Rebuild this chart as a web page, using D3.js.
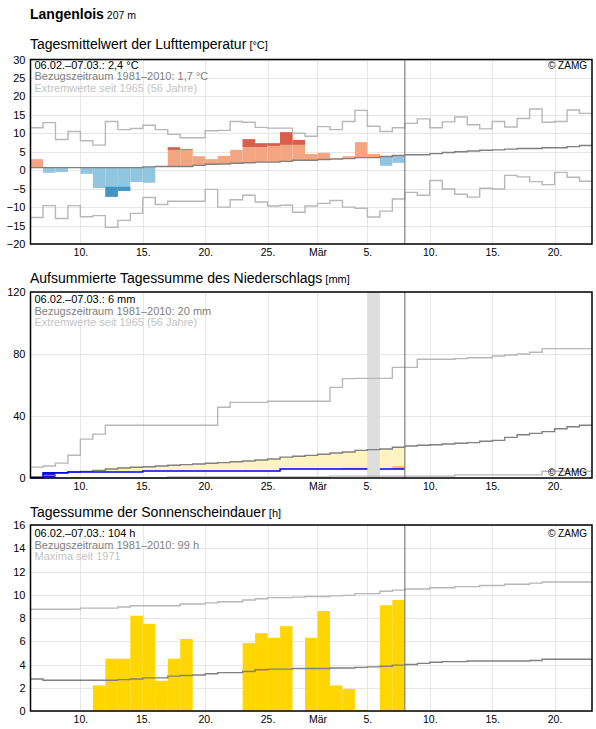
<!DOCTYPE html>
<html>
<head>
<meta charset="utf-8">
<script src="https://cdn.jsdelivr.net/npm/d3@7"></script>
<style>
  body { margin: 0; background: #fff; }
  svg text { font-family: "Liberation Sans", Arial, sans-serif; }
</style>
</head>
<body>
<div id="chart"></div>
<script>

// day 0 = 06.02.2021, the plot runs 45 days up to 23.03.
const startDay = new Date(Date.UTC(2021, 1, 6));
const nDays = 45;

const tickDays = ["2021-02-10", "2021-02-15", "2021-02-20", "2021-02-25", "2021-03-01",
                  "2021-03-05", "2021-03-10", "2021-03-15", "2021-03-20"];
const tickLabels = ["10.", "15.", "20.", "25.", "Mär", "5.", "10.", "15.", "20."];

// Temperatur
const tempTicks = [-20, -15, -10, -5, 0, 5, 10, 15, 20, 25, 30];
const tempNorm = [0.7, 0.7, 0.7, 0.7, 0.7, 0.7, 0.7, 0.7, 0.7, 0.9, 1.0, 1.0, 1.0, 1.3, 1.6,
                  1.7, 1.9, 2.0, 2.2, 2.2, 2.4, 2.7, 2.7, 2.9, 3.0, 3.15, 3.4, 3.4, 3.7, 4.0,
                  4.2, 4.2, 4.5, 4.8, 5.0, 5.2, 5.4, 5.5, 5.7, 5.9, 5.9, 6.1, 6.1, 6.4, 6.7];
const tempMax = [11.5, 12.9, 8.3, 10.5, 8.0, 6.8, 13.2, 11.0, 11.3, 12.2, 11.0, 9.7, 8.8, 8.8, 10.7,
                 10.8, 13.2, 13.0, 11.6, 11.4, 11.4, 10.0, 9.2, 11.8, 11.0, 13.2, 16.2, 11.9, 10.5, 11.5,
                 12.7, 13.9, 11.5, 13.1, 14.4, 12.3, 11.2, 13.2, 11.7, 14.0, 16.6, 13.0, 13.2, 16.3, 15.4];
const tempMin = [-12.8, -9.6, -13.1, -9.6, -12.6, -12.3, -15.5, -13.6, -11.7, -7.4, -9.3, -8.4, -8.4, -8.4, -5.2,
                 -10.0, -8.0, -6.8, -8.6, -9.7, -9.5, -11.4, -9.7, -9.0, -8.2, -10.0, -10.3, -12.7, -11.1, -7.8,
                 -6.0, -6.8, -2.8, -5.1, -6.5, -7.3, -4.9, -5.1, -1.4, -1.8, -3.1, -3.9, -0.6, -1.9, -3.0];
const tempDay = [3.0, -0.7, -0.5, 0.6, -1.0, -4.7, -7.2, -5.6, -3.2, -3.4, 1.0, 6.2, 5.7, 3.8, 3.0,
                 3.9, 5.5, 8.4, 7.3, 7.3, 10.3, 8.2, 4.4, 4.7, 3.3, 3.8, 7.6, 4.4, 1.2, 2.0];
// where the darker colour starts (beyond the usual range)
const tempDark = [null, null, null, null, null, -4.6, -4.5, -4.5, null, null, null, 5.5, 5.5, null, null,
                  null, null, 6.3, 6.3, 6.6, 6.9, 6.9, null, null, null, null, null, null, null, null];

// Niederschlag
const precTicks = [0, 40, 80, 120];
const precNorm = [0.9, 1.7, 3.0, 3.9, 4.3, 4.9, 5.8, 6.5, 6.9, 7.3, 7.7, 8.2, 8.6, 9.0, 9.5,
                  9.9, 10.5, 11.0, 11.6, 12.3, 13.5, 14.0, 14.6, 15.3, 16.1, 16.8, 17.8, 18.3, 18.7, 19.8,
                  20.6, 21.1, 21.5, 21.9, 22.4, 22.8, 23.7, 24.3, 26.2, 27.9, 28.8, 29.9, 31.8, 33.1, 34.0];
const precMax = [7.0, 7.7, 9.6, 14.7, 25.1, 28.3, 34.0, 34.0, 34.0, 34.0, 34.0, 34.0, 34.0, 34.0, 34.0,
                 45.6, 48.8, 48.8, 48.8, 49.5, 49.5, 49.5, 49.5, 49.5, 58.5, 64.1, 64.3, 64.3, 64.3, 71.4,
                 71.4, 76.6, 76.6, 76.6, 77.0, 77.6, 77.6, 78.7, 79.4, 80.0, 81.1, 83.5, 83.5, 83.5, 83.5];
const precMin = [0, 0, 0, 0, 0, 0, 0, 0, 0, 0, 0, 0.6, 0.6, 0.6, 0.6,
                 0.6, 0.6, 0.6, 0.6, 0.6, 0.6, 0.6, 0.6, 0.6, 1.2, 1.2, 1.2, 1.2, 1.2, 1.2,
                 1.2, 1.2, 1.2, 1.2, 2.0, 2.0, 2.0, 2.0, 2.0, 2.0, 2.0, 4.4, 4.4, 4.4, 4.4];
const precSum = [0.2, 3.4, 3.4, 3.9, 3.9, 3.9, 3.9, 3.9, 3.9, 4.5, 4.5, 4.5, 4.5, 4.5, 4.5,
                 4.5, 4.5, 4.5, 4.5, 4.5, 5.8, 5.8, 5.8, 5.8, 5.8, 5.8, 5.8, null, 5.8, 5.8];
const precDark = [null, 0.2, null, null, null, null, null, null, null, null, null, null, null, null, null,
                  null, null, null, null, null, null, null, null, null, null, 6.6, 6.6, null, null, 7.7];
const precMissing = [27];

// Sonnenschein
const sunTicks = [0, 2, 4, 6, 8, 10, 12, 14, 16];
const sunNorm = [2.75, 2.65, 2.65, 2.65, 2.65, 2.65, 2.65, 2.7, 2.75, 2.85, 2.85, 3.0, 3.05, 3.1, 3.2,
                 3.3, 3.3, 3.4, 3.55, 3.6, 3.6, 3.65, 3.65, 3.65, 3.7, 3.7, 3.75, 3.8, 3.85, 3.95,
                 4.0, 4.1, 4.2, 4.25, 4.25, 4.3, 4.3, 4.3, 4.3, 4.3, 4.35, 4.45, 4.45, 4.45, 4.45];
const sunMax = [8.75, 8.75, 8.75, 8.75, 8.85, 8.85, 8.85, 8.95, 9.05, 9.05, 9.05, 9.05, 9.2, 9.2, 9.3,
                9.4, 9.4, 9.55, 9.65, 9.75, 9.75, 9.8, 9.85, 9.85, 9.9, 9.95, 10.1, 10.1, 10.3, 10.4,
                10.5, 10.5, 10.6, 10.6, 10.7, 10.7, 10.8, 10.8, 10.9, 10.9, 11.0, 11.1, 11.1, 11.1, 11.1];
const sunDay = [0, 0, 0, 0, 0, 2.2, 4.5, 4.5, 8.2, 7.5, 2.6, 4.5, 6.2, 0, 0,
                0, 0, 5.85, 6.7, 6.3, 7.3, 0, 6.3, 8.6, 2.2, 1.9, 0.1, 0, 9.1, 9.55];


const svg = d3.select("#chart").append("svg")
    .attr("width", 596)
    .attr("height", 729);

const x = d3.scaleUtc()
    .domain([startDay, d3.utcDay.offset(startDay, nDays)])
    .range([30.5, 592]);
const dayX = i => x(d3.utcDay.offset(startDay, i));
const tickDates = tickDays.map(s => new Date(s + "T00:00:00Z"));
const todayIdx = tempDay.length;

const colNorm = "#808080", colExt = "#b7b7b7";

// step line, each value holds for a whole day
function stepPath(y, vals) {
    let pts = vals.flatMap((v, i) => [[i, v], [i + 1, v]]);
    return d3.line()
        .defined(d => d[1] != null)
        .x(d => dayX(d[0]))
        .y(d => y(d[1]))(pts);
}

function makePanel(cfg) {
    let g = svg.append("g");
    let y = d3.scaleLinear().domain(cfg.yDomain).range([cfg.bottom, cfg.top]);

    g.append("text")
        .attr("x", 30).attr("y", cfg.titleY)
        .attr("font-size", 14).attr("fill", "#000")
        .text(cfg.title)
        .append("tspan").attr("font-size", 11).text(" " + cfg.unit);

    // grid
    g.append("g").selectAll("line")
        .data(cfg.yTicks)
        .join("line")
        .attr("x1", x.range()[0]).attr("x2", x.range()[1])
        .attr("y1", d => Math.round(y(d)) + 0.5).attr("y2", d => Math.round(y(d)) + 0.5)
        .attr("stroke", "#e6e6e6");

    g.append("g").selectAll("line")
        .data(tickDates)
        .join("line")
        .attr("x1", d => Math.round(x(d)) + 0.5).attr("x2", d => Math.round(x(d)) + 0.5)
        .attr("y1", cfg.top).attr("y2", cfg.bottom)
        .attr("stroke", "#e6e6e6");

    // axes, labels only
    g.append("g")
        .attr("transform", "translate(" + x.range()[0] + ",0)")
        .call(d3.axisLeft(y).tickValues(cfg.yTicks).tickSize(0).tickPadding(5))
        .call(a => a.select(".domain").remove())
        .selectAll("text")
        .attr("font-size", 11).attr("font-family", "Liberation Sans, Arial, sans-serif").attr("fill", "#000");

    g.append("g")
        .attr("transform", "translate(0," + cfg.bottom + ")")
        .call(d3.axisBottom(x).tickValues(tickDates).tickFormat((d, i) => tickLabels[i]).tickSize(0).tickPadding(5))
        .call(a => a.select(".domain").remove())
        .selectAll("text")
        .attr("font-size", 10.5).attr("font-family", "Liberation Sans, Arial, sans-serif").attr("fill", "#000");

    let marks = g.append("g");
    let lines = g.append("g");
    let top = g.append("g");

    cfg.legend.forEach((t, i) => {
        top.append("text")
            .attr("x", 34.5).attr("y", cfg.legendY + i * 11.5)
            .attr("font-size", 11)
            .attr("fill", ["#000", "#808080", "#c3c3c3"][i])
            .text(t);
    });

    top.append("text")
        .attr("x", 587).attr("y", cfg.zamgY)
        .attr("text-anchor", "end")
        .attr("font-size", 10)
        .attr("fill", "#000")
        .text("© ZAMG");

    top.append("line")
        .attr("x1", dayX(todayIdx)).attr("x2", dayX(todayIdx))
        .attr("y1", cfg.top).attr("y2", cfg.bottom)
        .attr("stroke", colNorm).attr("stroke-width", 1.2);

    top.append("rect")
        .attr("x", x.range()[0]).attr("y", cfg.top)
        .attr("width", x.range()[1] - x.range()[0]).attr("height", cfg.bottom - cfg.top)
        .attr("fill", "none").attr("stroke", "#000").attr("stroke-width", 1.5);

    return {y, marks, lines, cfg};
}

function drawLine(p, vals, color) {
    p.lines.append("path")
        .attr("d", stepPath(p.y, vals))
        .attr("fill", "none")
        .attr("stroke", color)
        .attr("stroke-width", 1.4);
}


// ---------- Temperatur ----------
svg.append("text")
    .attr("x", 30).attr("y", 19)
    .attr("font-size", 14).attr("font-weight", "bold").attr("fill", "#000")
    .text("Langenlois")
    .append("tspan").attr("font-size", 10.5).attr("font-weight", "normal").text(" 207 m");

let pT = makePanel({
    top: 59.5, bottom: 244, yDomain: [-20, 30], yTicks: tempTicks,
    title: "Tagesmittelwert der Lufttemperatur", unit: "[°C]", titleY: 49,
    legend: ["06.02.–07.03.: 2,4 °C", "Bezugszeitraum 1981–2010: 1,7 °C", "Extremwerte seit 1965 (56 Jahre)"],
    legendY: 68.5, zamgY: 68.5
});

let tBars = tempDay.map((v, i) => {
    let n = tempNorm[i], up = v >= n;
    let out = [{i, a: n, b: v, c: up ? "#f4a582" : "#92c5de"}];
    if (tempDark[i] != null) out.push({i, a: tempDark[i], b: v, c: up ? "#d6604d" : "#4393c3"});
    return out;
}).flat();

pT.marks.selectAll("rect")
    .data(tBars)
    .join("rect")
    .attr("x", d => dayX(d.i))
    .attr("width", d => dayX(d.i + 1) - dayX(d.i))
    .attr("y", d => pT.y(Math.max(d.a, d.b)))
    .attr("height", d => Math.abs(pT.y(d.a) - pT.y(d.b)))
    .attr("fill", d => d.c);

drawLine(pT, tempMax, colExt);
drawLine(pT, tempMin, colExt);
drawLine(pT, tempNorm, colNorm);


// ---------- Niederschlag ----------
let pP = makePanel({
    top: 292, bottom: 478, yDomain: [0, 120], yTicks: precTicks,
    title: "Aufsummierte Tagessumme des Niederschlags", unit: "[mm]", titleY: 283,
    legend: ["06.02.–07.03.: 6 mm", "Bezugszeitraum 1981–2010: 20 mm", "Extremwerte seit 1965 (56 Jahre)"],
    legendY: 303.3, zamgY: 476
});

let pBars = [];
precSum.forEach((v, i) => {
    if (v == null) return;
    if (v < precNorm[i]) pBars.push({i, a: precNorm[i], b: v, c: "#fff4bf"});
    if (precDark[i] != null) pBars.push({i, a: precDark[i], b: v, c: v < precDark[i] ? "#fdb863" : "#0a0ae6"});
});

pP.marks.selectAll("rect.fill")
    .data(pBars)
    .join("rect")
    .attr("class", "fill")
    .attr("x", d => dayX(d.i))
    .attr("width", d => dayX(d.i + 1) - dayX(d.i))
    .attr("y", d => pP.y(Math.max(d.a, d.b)))
    .attr("height", d => Math.abs(pP.y(d.a) - pP.y(d.b)))
    .attr("fill", d => d.c);

pP.marks.selectAll("rect.miss")
    .data(precMissing)
    .join("rect")
    .attr("class", "miss")
    .attr("x", d => dayX(d))
    .attr("width", d => dayX(d + 1) - dayX(d))
    .attr("y", pP.cfg.top)
    .attr("height", pP.cfg.bottom - pP.cfg.top)
    .attr("fill", "#dedede");

drawLine(pP, precMax, colExt);
drawLine(pP, precMin, colExt);
drawLine(pP, precNorm, colNorm);
drawLine(pP, precSum, "#0000f0");


// ---------- Sonnenschein ----------
let pS = makePanel({
    top: 525, bottom: 711, yDomain: [0, 16], yTicks: sunTicks,
    title: "Tagessumme der Sonnenscheindauer", unit: "[h]", titleY: 517,
    legend: ["06.02.–07.03.: 104 h", "Bezugszeitraum 1981–2010: 99 h", "Maxima seit 1971"],
    legendY: 537.3, zamgY: 537
});

pS.marks.selectAll("rect")
    .data(sunDay)
    .join("rect")
    .attr("x", (d, i) => dayX(i))
    .attr("width", (d, i) => dayX(i + 1) - dayX(i))
    .attr("y", d => pS.y(d))
    .attr("height", d => pS.y(0) - pS.y(d))
    .attr("fill", "#ffd600");

drawLine(pS, sunMax, colExt);
drawLine(pS, sunNorm, colNorm);

</script>
</body>
</html>
